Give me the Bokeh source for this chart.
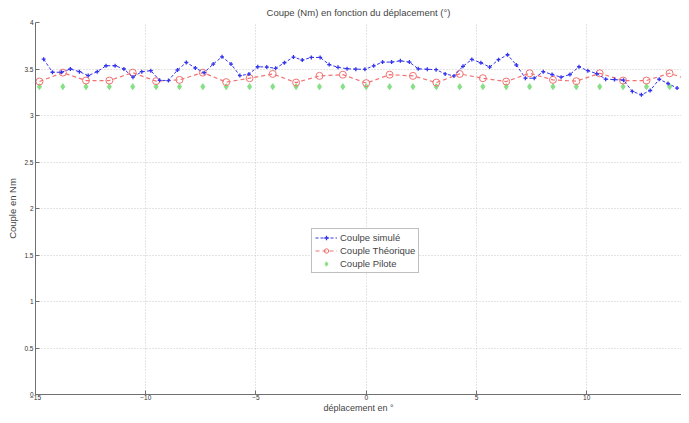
from bokeh.plotting import figure
from bokeh.models import Range1d, Legend, LegendItem, FixedTicker, NumeralTickFormatter
from bokeh.embed import file_html
from bokeh.resources import INLINE

# --- data ---
x_simule = [-14.63, -14.23, -13.82, -13.42, -13.01, -12.61, -12.20, -11.80, -11.39, -10.99,
            -10.58, -10.18, -9.77, -9.37, -8.97, -8.56, -8.16, -7.75, -7.35, -6.94,
            -6.54, -6.13, -5.73, -5.32, -4.92, -4.51, -4.11, -3.71, -3.30, -2.90,
            -2.49, -2.09, -1.68, -1.28, -0.87, -0.47, -0.06, 0.34, 0.74, 1.15,
            1.55, 1.96, 2.36, 2.77, 3.17, 3.58, 3.98, 4.39, 4.79, 5.20,
            5.60, 6.00, 6.41, 6.81, 7.22, 7.62, 8.03, 8.43, 8.84, 9.24,
            9.65, 10.05, 10.46, 10.86, 11.26, 11.67, 12.07, 12.48, 12.88, 13.29,
            13.69, 14.10]
y_simule = [3.606, 3.465, 3.465, 3.500, 3.471, 3.429, 3.471, 3.535, 3.535, 3.500,
            3.412, 3.471, 3.482, 3.378, 3.376, 3.489, 3.571, 3.511, 3.461, 3.553,
            3.631, 3.553, 3.429, 3.445, 3.524, 3.521, 3.507, 3.567, 3.628, 3.596,
            3.624, 3.624, 3.548, 3.518, 3.503, 3.498, 3.497, 3.534, 3.574, 3.574,
            3.588, 3.574, 3.502, 3.497, 3.493, 3.447, 3.426, 3.529, 3.603, 3.567,
            3.521, 3.600, 3.653, 3.543, 3.401, 3.401, 3.471, 3.441, 3.412, 3.441,
            3.524, 3.482, 3.450, 3.391, 3.386, 3.380, 3.259, 3.223, 3.269, 3.390,
            3.344, 3.295]

x_theo = [-14.82, -13.76, -12.71, -11.65, -10.59, -9.53, -8.47, -7.41, -6.35, -5.29,
          -4.24, -3.18, -2.12, -1.06, 0.0, 1.06, 2.12, 3.18, 4.24, 5.29,
          6.35, 7.41, 8.47, 9.53, 10.59, 11.65, 12.71, 13.76, 14.82]
y_theo = [3.365, 3.461, 3.376, 3.376, 3.461, 3.369, 3.383, 3.461, 3.359, 3.401,
          3.447, 3.354, 3.426, 3.439, 3.348, 3.439, 3.426, 3.354, 3.447, 3.401,
          3.365, 3.454, 3.383, 3.369, 3.454, 3.376, 3.376, 3.454, 3.370]

x_pilote = x_theo
y_pilote = [3.31] * len(x_theo)

x_ticks = [-15, -10, -5, 0, 5, 10]
y_ticks = [0, 0.5, 1, 1.5, 2, 2.5, 3, 3.5, 4]

FONT = "Liberation Sans"
BLUE = "#3535ee"
RED = "#f27272"
GREEN = "#86e086"

p = figure(width=681, height=415, output_backend="svg", toolbar_location=None,
           x_range=Range1d(-15, 14.3), y_range=Range1d(0, 4),
           min_border_left=35, min_border_right=0, min_border_top=21, min_border_bottom=18,
           title="Coupe (Nm) en fonction du déplacement (°)")
p.title.text_font = FONT
p.title.text_font_size = "9.5px"
p.title.text_font_style = "normal"
p.title.align = "center"
p.title.offset = 0
p.title.standoff = 9
p.outline_line_color = None
p.background_fill_color = "white"

for ax in (p.xaxis[0], p.yaxis[0]):
    ax.major_tick_in = 4
    ax.major_tick_out = 0
    ax.minor_tick_line_color = None
    ax.axis_line_color = "#707070"
    ax.major_tick_line_color = "#707070"
    ax.major_label_text_font = FONT
    ax.major_label_text_font_size = "6.5px"
    ax.major_label_text_color = "#333333"
    ax.axis_label_text_font = FONT
    ax.axis_label_text_font_size = "9.5px"
    ax.axis_label_text_font_style = "normal"
    ax.major_label_standoff = 2
    ax.axis_label_standoff = 3

p.xaxis.major_label_standoff = 0
p.xaxis.axis_label_standoff = 0
p.xaxis.axis_label_text_font_size = "9px"
p.xaxis.ticker = FixedTicker(ticks=x_ticks)
p.yaxis.ticker = FixedTicker(ticks=y_ticks)
p.yaxis.formatter = NumeralTickFormatter(format="0.[0]")
p.xaxis.axis_label = "déplacement en °"
p.yaxis.axis_label = "Couple en Nm"

p.xgrid.ticker = FixedTicker(ticks=x_ticks)
p.ygrid.ticker = FixedTicker(ticks=y_ticks)
for g in (p.xgrid[0], p.ygrid[0]):
    g.grid_line_color = "#c8c8c8"
    g.grid_line_dash = "1 2"

# Couple Pilote
gl = p.line([], [], line_color=GREEN, line_width=1)
gs = p.scatter(x_pilote, y_pilote, marker="diamond", size=6,
               fill_color=GREEN, line_color=GREEN)

# Couple Théorique
rl = p.line(x_theo, y_theo, line_color=RED, line_width=1.2, line_dash="4 3")
rs = p.scatter(x_theo, y_theo, marker="circle", size=7, fill_color=None,
               line_color=RED, line_width=1)

# Couple simulé
bl = p.line(x_simule, y_simule, line_color=BLUE, line_width=1, line_dash="3 2")
bs = p.scatter(x_simule, y_simule, marker="cross", size=4, line_color=BLUE, line_width=1.3)

legend = Legend(items=[LegendItem(label="Coulpe simulé", renderers=[bl, bs]),
                       LegendItem(label="Couple Théorique", renderers=[rl, rs]),
                       LegendItem(label="Couple Pilote", renderers=[gl, gs])],
                location=(276, 121))
legend.label_text_font = FONT
legend.label_text_font_size = "9.5px"
legend.label_height = 11
legend.glyph_width = 22
legend.glyph_height = 11
legend.spacing = 2
legend.padding = 3
legend.margin = 0
legend.label_standoff = 3
legend.border_line_color = "#808080"
legend.background_fill_color = "white"
legend.background_fill_alpha = 1
p.add_layout(legend)

open("out.html", "w").write(file_html(p, INLINE))
